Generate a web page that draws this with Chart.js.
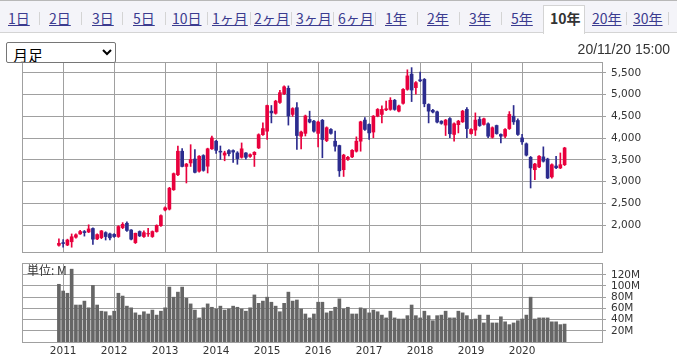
<!DOCTYPE html>
<html><head><meta charset="utf-8">
<script src="https://cdn.jsdelivr.net/npm/chart.js@4.4.0/dist/chart.umd.min.js"></script>
<style>
html,body{margin:0;padding:0;background:#fff;width:677px;height:357px;overflow:hidden;position:relative;font-family:"Noto Sans CJK JP",sans-serif;}
#tabs{position:absolute;left:0;top:0;width:677px;height:33px;background:#f4f4f9;border-top:1px solid #b8b8b8;border-bottom:1px solid #d4d4d4;box-sizing:border-box;z-index:2;}
.tab{position:absolute;top:9px;font-size:14px;line-height:16px;color:#3b3b8f;text-decoration:underline;white-space:nowrap;}
.sep{position:absolute;top:11px;width:1px;height:13px;background:#d4d4d4;}
#selTab{position:absolute;left:543px;top:4px;width:42px;height:29px;background:#fff;border:1px solid #d4d4d4;border-bottom:none;box-sizing:border-box;}
#selTab span{position:absolute;left:6px;top:4px;font-size:14px;line-height:16px;font-weight:bold;color:#333;}
#sel{position:absolute;left:6px;top:42px;width:110px;height:21px;font-size:15px;font-family:"Noto Sans CJK JP",sans-serif;z-index:3;padding:0 2px;border:1px solid #767676;border-radius:2px;background:#fff;color:#000;}
#time{position:absolute;right:7px;top:41px;font:14px "Liberation Sans",Arial,sans-serif;color:#333;z-index:3;}
#unit{position:absolute;left:27px;top:263px;font-size:12px;line-height:14px;color:#333;z-index:3;}
canvas{position:absolute;left:0;top:0;}
</style></head>
<body>
<div id="tabs">
  <span class="tab" style="left:8px">1日</span><span class="sep" style="left:39px"></span>
  <span class="tab" style="left:49px">2日</span><span class="sep" style="left:81px"></span>
  <span class="tab" style="left:92px">3日</span><span class="sep" style="left:122px"></span>
  <span class="tab" style="left:133px">5日</span><span class="sep" style="left:165px"></span>
  <span class="tab" style="left:172px">10日</span><span class="sep" style="left:207px"></span>
  <span class="tab" style="left:212px">1ヶ月</span><span class="sep" style="left:250px"></span>
  <span class="tab" style="left:254px">2ヶ月</span><span class="sep" style="left:291px"></span>
  <span class="tab" style="left:296px">3ヶ月</span><span class="sep" style="left:333px"></span>
  <span class="tab" style="left:338px">6ヶ月</span><span class="sep" style="left:375px"></span>
  <span class="tab" style="left:385px">1年</span><span class="sep" style="left:417px"></span>
  <span class="tab" style="left:427px">2年</span><span class="sep" style="left:459px"></span>
  <span class="tab" style="left:469px">3年</span><span class="sep" style="left:501px"></span>
  <span class="tab" style="left:511px">5年</span>
  <div id="selTab"><span>10年</span></div>
  <span class="tab" style="left:592px">20年</span><span class="sep" style="left:626px"></span>
  <span class="tab" style="left:633px">30年</span><span class="sep" style="left:668px"></span>
</div>
<select id="sel"><option>月足</option></select>
<div id="time">20/11/20 15:00</div>
<div id="unit">単位: M</div>
<canvas id="main" width="677" height="357"></canvas>
<canvas id="vol" width="677" height="357"></canvas>
<script>
// first candle = Dec 2010, last = Nov 2020 (monthly)
const firstMonthOffset = -1; // months relative to Jan 2011
const yearLabels = ['2011','2012','2013','2014','2015','2016','2017','2018','2019','2020'];
const priceTicks = [2000,2500,3000,3500,4000,4500,5000,5500];
const volumeTicks = [20,40,60,80,100,120];

const openP = [1540,1600,1545,1620,1725,1800,1855,1845,1925,1685,
1715,1830,1800,1790,1740,1945,2045,1890,1600,1855,
1740,1800,1740,1855,1990,2350,2370,2815,3160,3700,
3350,3430,3520,3240,3600,3355,3755,3930,3700,3610,
3715,3715,3660,3560,3660,3580,3620,3775,4080,4160,
4620,4570,4820,5020,5145,4545,4700,4045,4110,4430,
4390,4110,4410,3945,4200,3930,3830,3275,3510,3570,
3700,3930,4415,4315,4140,4505,4545,4650,4660,4870,
4620,4800,5120,5470,5160,5340,5350,4775,4640,4605,
4390,4300,4450,4085,4310,4375,4660,4105,4185,4430,
4315,4330,4020,4290,4085,4045,4220,4505,4405,4005,
3870,3560,3275,3340,3570,3520,3110,3360,3315,3390];
const highP = [1690,1670,1680,1800,1800,1880,1880,2010,1940,1800,
1880,1850,1820,1810,1990,2060,2080,1900,1820,1870,
1870,1930,1870,2010,2240,2420,2870,3200,3815,3760,
3420,3850,3740,3600,3620,3770,4050,3950,3820,3700,
3740,3730,3690,3890,3670,3640,3690,4100,4350,4760,
4750,4870,5100,5200,5200,4700,4815,4160,4530,4620,
4410,4390,4430,4260,4220,4160,3840,3630,3580,3740,
4030,4390,4470,4330,4520,4680,4740,4850,4930,4890,
4760,5140,5570,5620,5300,5520,5370,4790,4660,4620,
4400,4430,4470,4350,4410,4640,4700,4220,4580,4490,
4460,4350,4260,4300,4100,4220,4610,4750,4445,4085,
3890,3580,3420,3600,3800,3540,3410,3580,3660,3790];
const lowP = [1520,1495,1530,1495,1700,1790,1750,1830,1560,1670,
1690,1660,1660,1720,1720,1920,1860,1660,1580,1740,
1720,1740,1720,1840,1970,2330,2350,2800,3140,3340,
2970,3350,3200,3220,3240,3200,3740,3650,3510,3480,
3590,3440,3400,3540,3520,3560,3350,3760,4060,3970,
4350,4550,4800,5000,4300,4500,3740,3750,4050,4350,
4140,3800,3550,3920,4090,3700,3120,3120,3490,3550,
3680,3700,4180,3970,4010,4490,4350,4630,4640,4640,
4600,4780,5100,4840,5010,5300,4720,4350,4580,4350,
4320,4060,4010,3930,4120,4360,4010,4090,4060,4270,
4300,4010,4000,4090,3890,4010,4200,4315,4060,3855,
3590,2855,3045,3320,3450,3070,3080,3300,3300,3370];
const closeP = [1585,1580,1660,1735,1780,1855,1830,1915,1680,1785,
1870,1740,1710,1740,1970,2020,1880,1680,1815,1755,
1830,1810,1855,1995,2220,2400,2850,3185,3700,3350,
3405,3510,3215,3585,3260,3755,4005,3720,3680,3660,
3645,3680,3530,3755,3560,3620,3675,4080,4220,4750,
4580,4850,5045,5180,4510,4680,4060,4140,4510,4370,
4160,4370,3970,4240,4110,3815,3250,3610,3560,3720,
3930,4375,4200,4120,4505,4660,4660,4675,4870,4660,
4740,5120,5430,5105,5275,5315,4790,4620,4600,4370,
4340,4415,4100,4330,4390,4620,4220,4200,4415,4290,
4445,4045,4240,4105,4045,4200,4545,4375,4085,3915,
3610,3315,3405,3585,3470,3085,3390,3320,3390,3775];
const volumeM = [103,91,87,130,66,66,73,61,101,66,
55,54,47,55,87,82,64,61,52,48,
54,50,57,48,55,61,98,80,89,98,
78,68,57,43,61,68,62,59,64,57,
59,64,62,59,55,61,84,69,73,80,
71,64,54,69,89,73,75,59,50,43,
50,71,71,52,55,62,77,59,62,50,
50,61,59,52,57,54,48,43,55,43,
41,41,47,66,47,43,55,47,38,47,
48,55,43,43,55,52,47,40,41,48,
34,48,34,34,45,36,31,34,38,41,
48,80,41,43,43,43,36,36,31,32];

const UP = '#e8003d', DOWN = '#2c2c8e', GRID = '#a0a0a0', VOL = '#666666', TXT = '#333333';
const xOf = i => i + firstMonthOffset;
const upDown = openP.map((o,i) => closeP[i] >= o ? UP : DOWN);

const frame = {id:'frame', beforeDatasetsDraw(chart){
  const {ctx, chartArea:a} = chart;
  ctx.save(); ctx.strokeStyle = GRID; ctx.lineWidth = 1;
  ctx.strokeRect(Math.round(a.left)-0.5, Math.round(a.top)+0.5, Math.round(a.right-a.left)+1, Math.round(a.bottom-a.top));
  ctx.restore();
}};
const font = {family:'"DejaVu Sans", Verdana, sans-serif', size:10.5};
const xCommon = {
  type:'linear', min:-9.45, max:126.8, offset:false,
  grid:{color:GRID, offset:false, drawTicks:false},
  border:{display:false},
  afterBuildTicks(s){ s.ticks = yearLabels.map((_,i)=>({value:i*12})); },
};

new Chart(document.getElementById('main'), {
  type:'bar',
  data:{datasets:[
    {data: openP.map((o,i)=>({x:xOf(i), y:[o, closeP[i]]})), backgroundColor:upDown, barThickness:3, grouped:false, borderWidth:0},
    {data: lowP.map((l,i)=>({x:xOf(i), y:[l, highP[i]]})), backgroundColor:upDown, barThickness:1, grouped:false, borderWidth:0}
  ]},
  options:{
    responsive:false, animation:false, events:[],
    layout:{padding:{left:23, top:62, right:0, bottom:105}},
    plugins:{legend:{display:false}, tooltip:{enabled:false}},
    scales:{
      x:Object.assign({}, xCommon, {ticks:{display:false}, afterFit(s){s.height=0; s.paddingLeft=0; s.paddingRight=0;}}),
      y:{type:'linear', position:'right', min:1385, max:5749, beginAtZero:false,
        grid:{color:GRID, tickLength:4, drawTicks:true}, border:{display:false},
        ticks:{font, color:TXT, padding:5, callback:v=>v.toLocaleString('en-US')},
        afterBuildTicks(s){ s.ticks = priceTicks.map(v=>({value:v})); },
        afterFit(s){ s.width = 75; s.paddingTop=0; s.paddingBottom=0; }}
    }
  },
  plugins:[frame]
});

new Chart(document.getElementById('vol'), {
  type:'bar',
  data:{datasets:[
    {data: volumeM.map((v,i)=>({x:xOf(i), y:v})), backgroundColor:VOL, barThickness:3, borderWidth:0}
  ]},
  options:{
    responsive:false, animation:false, events:[],
    layout:{padding:{left:23, top:263, right:0, bottom:0}},
    plugins:{legend:{display:false}, tooltip:{enabled:false}},
    scales:{
      x:Object.assign({}, xCommon, {ticks:{font, color:TXT, padding:3, maxRotation:0, autoSkip:false, callback:(v,i)=>yearLabels[i]},
        afterFit(s){s.height=15; s.paddingLeft=0; s.paddingRight=0;}}),
      y:{type:'linear', position:'right', min:0, max:141,
        grid:{color:GRID, tickLength:4, drawTicks:true}, border:{display:false},
        ticks:{font, color:TXT, padding:5, callback:v=>v+'M'},
        afterBuildTicks(s){ s.ticks = volumeTicks.map(v=>({value:v})); },
        afterFit(s){ s.width = 75; s.paddingTop=0; s.paddingBottom=0; }}
    }
  },
  plugins:[frame]
});
</script>
</body></html>
